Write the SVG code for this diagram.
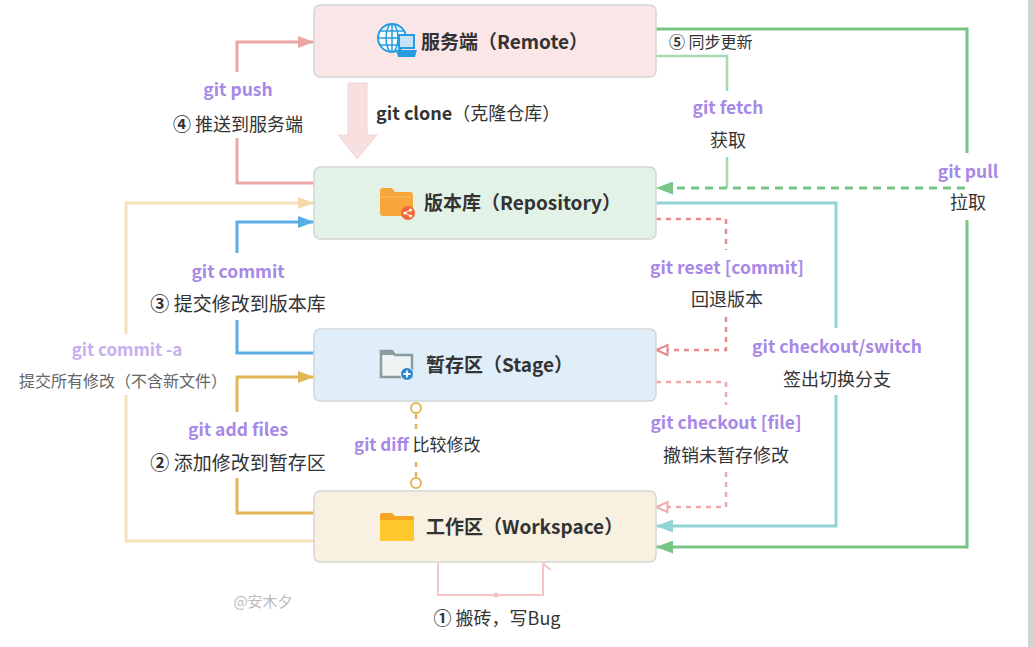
<svg xmlns="http://www.w3.org/2000/svg" width="1034" height="647" viewBox="0 0 1034 647">
<style>
text{font-family:"Noto Sans CJK SC","Microsoft YaHei",sans-serif}
.cmd{font-size:17.5px;font-weight:bold;fill:#a888e6}
.lbl{font-size:18px;fill:#333}
.title{font-size:19px;font-weight:bold;fill:#333}
.box{stroke:#d6d6d6;stroke-width:1.5}
.ln{fill:none;stroke-width:3}
.dl{fill:none;stroke-width:2.5;stroke-dasharray:5 5}
.num{font-weight:bold}
</style>
<defs>
<marker id="aPink" viewBox="0 0 16 12" refX="16" refY="6" markerWidth="16" markerHeight="12" markerUnits="userSpaceOnUse" orient="auto"><path d="M0,0 L16,6 L0,12 z" fill="#eba7a7"/></marker>
<marker id="aBlue" viewBox="0 0 16 12" refX="16" refY="6" markerWidth="16" markerHeight="12" markerUnits="userSpaceOnUse" orient="auto"><path d="M0,0 L16,6 L0,12 z" fill="#5aaee5"/></marker>
<marker id="aGold" viewBox="0 0 16 12" refX="16" refY="6" markerWidth="16" markerHeight="12" markerUnits="userSpaceOnUse" orient="auto"><path d="M0,0 L16,6 L0,12 z" fill="#e2b654"/></marker>
<marker id="aCream" viewBox="0 0 16 12" refX="16" refY="6" markerWidth="16" markerHeight="12" markerUnits="userSpaceOnUse" orient="auto"><path d="M0,0 L16,6 L0,12 z" fill="#f3dba9"/></marker>
<marker id="aGreen" viewBox="0 0 17 13" refX="17" refY="6.5" markerWidth="17" markerHeight="13" markerUnits="userSpaceOnUse" orient="auto"><path d="M0,0 L17,6.5 L0,13 z" fill="#78c686"/></marker>
<marker id="aTeal" viewBox="0 0 17 13" refX="17" refY="6.5" markerWidth="17" markerHeight="13" markerUnits="userSpaceOnUse" orient="auto"><path d="M0,0 L17,6.5 L0,13 z" fill="#92d4d4"/></marker>
<marker id="oRed" viewBox="0 0 14 14" refX="13" refY="7" markerWidth="14" markerHeight="14" markerUnits="userSpaceOnUse" orient="auto"><path d="M1.5,2 L12.5,7 L1.5,12 z" fill="#fff" stroke="#e88a8a" stroke-width="2"/></marker>
<marker id="oRed2" viewBox="0 0 14 14" refX="13" refY="7" markerWidth="14" markerHeight="14" markerUnits="userSpaceOnUse" orient="auto"><path d="M1.5,2 L12.5,7 L1.5,12 z" fill="#fff" stroke="#f0aaaa" stroke-width="2"/></marker>
<marker id="chev" viewBox="0 0 14 10" refX="7" refY="1" markerWidth="14" markerHeight="10" markerUnits="userSpaceOnUse" orient="auto-start-reverse"><path d="M1,9 L7,1 L13,9" fill="none" stroke="#f5c5c5" stroke-width="2"/></marker>
</defs>
<rect width="1034" height="647" fill="#ffffff"/>
<rect x="1028" y="0" width="6" height="647" fill="#cdd6cf"/>

<g id="connectors">
  <path class="ln" stroke="#eba7a7" d="M314,183 H237 V138"/>
  <path class="ln" stroke="#eba7a7" d="M237,72 V42 H314" marker-end="url(#aPink)"/>
  <path d="M348,83 H367 V135 H377 L357,159 L338,135 H348 Z" fill="#f8e0e0" stroke="#efd6d6" stroke-width="1"/>
  <path class="ln" stroke="#5aaee5" d="M314,353 H237 V320"/>
  <path class="ln" stroke="#5aaee5" d="M237,253 V222 H314" marker-end="url(#aBlue)"/>
  <path class="ln" stroke="#e2b654" d="M314,513 H237 V478"/>
  <path class="ln" stroke="#e2b654" d="M237,412 V377 H314" marker-end="url(#aGold)"/>
  <path class="ln" stroke="#f5e1b7" d="M314,541 H126 V395"/>
  <path class="ln" stroke="#f5e1b7" d="M126,334 V203 H314" marker-end="url(#aCream)"/>
  <path class="ln" stroke="#78c686" d="M656,29 H967 V153"/>
  <path class="ln" stroke="#78c686" d="M967,220 V547 H656" marker-end="url(#aGreen)"/>
  <path fill="none" stroke="#a6dbb0" stroke-width="2.5" d="M656,56 H727 V91"/>
  <path fill="none" stroke="#a6dbb0" stroke-width="2.5" d="M727,157 V188"/>
  <path fill="none" stroke="#78c686" stroke-width="3" stroke-dasharray="8 6" d="M965,188 H656" marker-end="url(#aGreen)"/>
  <path class="ln" stroke="#92d4d4" d="M656,203 H836 V328"/>
  <path class="ln" stroke="#92d4d4" d="M836,395 V526 H656" marker-end="url(#aTeal)"/>
  <path class="dl" stroke="#e88a8a" d="M656,219 H726 V250"/>
  <path class="dl" stroke="#e88a8a" d="M726,317 V350 H656" marker-end="url(#oRed)"/>
  <path class="dl" stroke="#f0aaaa" d="M656,382 H726 V405"/>
  <path class="dl" stroke="#f0aaaa" d="M726,472 V507 H656" marker-end="url(#oRed2)"/>
  <path fill="none" stroke="#e2b654" stroke-width="2.5" stroke-dasharray="5 5" d="M416,414 V430"/>
  <path fill="none" stroke="#e2b654" stroke-width="2.5" stroke-dasharray="5 5" d="M416,462 V477"/>
  <circle cx="416" cy="408" r="5" fill="#fff" stroke="#e2b654" stroke-width="2"/>
  <circle cx="416" cy="483" r="5" fill="#fff" stroke="#e2b654" stroke-width="2"/>
  <path fill="none" stroke="#f5c5c5" stroke-width="2" d="M438,563 V595 H543 V564" marker-end="url(#chev)"/>
  <circle cx="496" cy="595" r="2.5" fill="#f5c5c5"/>
</g>

<g id="labels">
  <text class="cmd" x="238" y="96" text-anchor="middle">git push</text>
  <text class="lbl" x="238" y="131" text-anchor="middle"><tspan class="num">④</tspan> 推送到服务端</text>
  <text x="376" y="120" style="font-size:18px;fill:#333"><tspan font-weight="bold">git clone</tspan>（克隆仓库）</text>
  <text x="669" y="48" style="font-size:16px;fill:#333"><tspan class="num">⑤</tspan> 同步更新</text>
  <text class="cmd" x="728" y="114" text-anchor="middle">git fetch</text>
  <text class="lbl" x="728" y="147" text-anchor="middle">获取</text>
  <text class="cmd" x="968" y="178" text-anchor="middle">git pull</text>
  <text class="lbl" x="968" y="209" text-anchor="middle">拉取</text>
  <text class="cmd" x="727" y="274" text-anchor="middle">git reset [commit]</text>
  <text class="lbl" x="727" y="306" text-anchor="middle">回退版本</text>
  <text class="cmd" x="837" y="353" text-anchor="middle">git checkout/switch</text>
  <text class="lbl" x="837" y="386" text-anchor="middle">签出切换分支</text>
  <text class="cmd" x="726" y="429" text-anchor="middle">git checkout [file]</text>
  <text class="lbl" x="726" y="462" text-anchor="middle">撤销未暂存修改</text>
  <text class="cmd" x="238" y="278" text-anchor="middle">git commit</text>
  <text class="lbl" x="238" y="311" text-anchor="middle" style="font-size:19px"><tspan class="num">③</tspan> 提交修改到版本库</text>
  <text x="127" y="356" text-anchor="middle" style="font-size:17px;font-weight:bold;fill:#c6afef">git commit -a</text>
  <text x="123" y="387" text-anchor="middle" style="font-size:16px;fill:#666">提交所有修改（不含新文件）</text>
  <text class="cmd" x="238" y="436" text-anchor="middle">git add files</text>
  <text class="lbl" x="238" y="470" text-anchor="middle" style="font-size:19px"><tspan class="num">②</tspan> 添加修改到暂存区</text>
  <text x="354" y="451" style="font-size:17px;fill:#333"><tspan font-weight="bold" fill="#a888e6">git diff</tspan> 比较修改</text>
  <text class="lbl" x="497" y="625" text-anchor="middle"><tspan class="num">①</tspan> 搬砖，写Bug</text>
  <text x="263" y="607" text-anchor="middle" style="font-size:15px;fill:#bbbbbb">@安木夕</text>
</g>

<g id="remote">
  <rect class="box" x="314" y="5" width="342" height="72" rx="6" fill="#fae6e7"/>
  <circle cx="392" cy="38" r="14" fill="#f4fbff" stroke="#2b9be0" stroke-width="2"/>
  <ellipse cx="392" cy="38" rx="6" ry="14" fill="none" stroke="#2b9be0" stroke-width="1.5"/>
  <path d="M392,24 V52 M378,38 H406 M380,31 H404 M380,45 H404" stroke="#2b9be0" stroke-width="1.5" fill="none"/>
  <rect x="399" y="35" width="15" height="13" fill="#c4e3f7" stroke="#2b9be0" stroke-width="2"/>
  <path d="M396,50 H417 L415,57 H398 Z" fill="#2b9be0"/>
  <text class="title" x="421" y="49">服务端（Remote）</text>
</g>

<g id="repository">
  <rect class="box" x="314" y="167" width="342" height="72" rx="6" fill="#e3f2e7"/>
  <path d="M380,191 Q380,188 383,188 H392 L395,192 H410 Q413,192 413,195 V213 Q413,216 410,216 H383 Q380,216 380,213 Z" fill="#f7a73a"/>
  <path d="M381,197 H412" stroke="#fbc06a" stroke-width="1"/>
  <circle cx="408" cy="213" r="7" fill="#f2693a"/>
  <circle cx="405" cy="213" r="1.6" fill="#fff"/>
  <circle cx="410.5" cy="210" r="1.6" fill="#fff"/>
  <circle cx="410.5" cy="216" r="1.6" fill="#fff"/>
  <path d="M405,213 L410.5,210 M405,213 L410.5,216" stroke="#fff" stroke-width="1"/>
  <text class="title" x="424" y="210">版本库（Repository）</text>
</g>

<g id="stage">
  <rect class="box" x="314" y="329" width="342" height="72" rx="6" fill="#dfeef9"/>
  <path d="M381,351 H392 L395,355 H412 V377 H381 Z" fill="#eef3f4" stroke="#8c9b9b" stroke-width="2.5"/>
  <path d="M381,351 H392 L395,355 H381 Z" fill="#8c9b9b"/>
  <circle cx="407" cy="374" r="6.5" fill="#2e88cc" stroke="#fff" stroke-width="1"/>
  <path d="M407,370.5 V377.5 M403.5,374 H410.5" stroke="#fff" stroke-width="1.8"/>
  <text class="title" x="426" y="372">暂存区（Stage）</text>
</g>

<g id="workspace">
  <rect class="box" x="314" y="491" width="342" height="71" rx="6" fill="#f8f0e1"/>
  <path d="M380,515 Q380,513 382,513 H392 L395,516 H412 Q414,516 414,518 V539 Q414,541 412,541 H382 Q380,541 380,539 Z" fill="#f5a623"/>
  <path d="M380,520 H412 Q414,520 414,522 V539 Q414,541 412,541 H382 Q380,541 380,539 Z" fill="#ffc82c"/>
  <text class="title" x="426" y="534">工作区（Workspace）</text>
</g>
</svg>
